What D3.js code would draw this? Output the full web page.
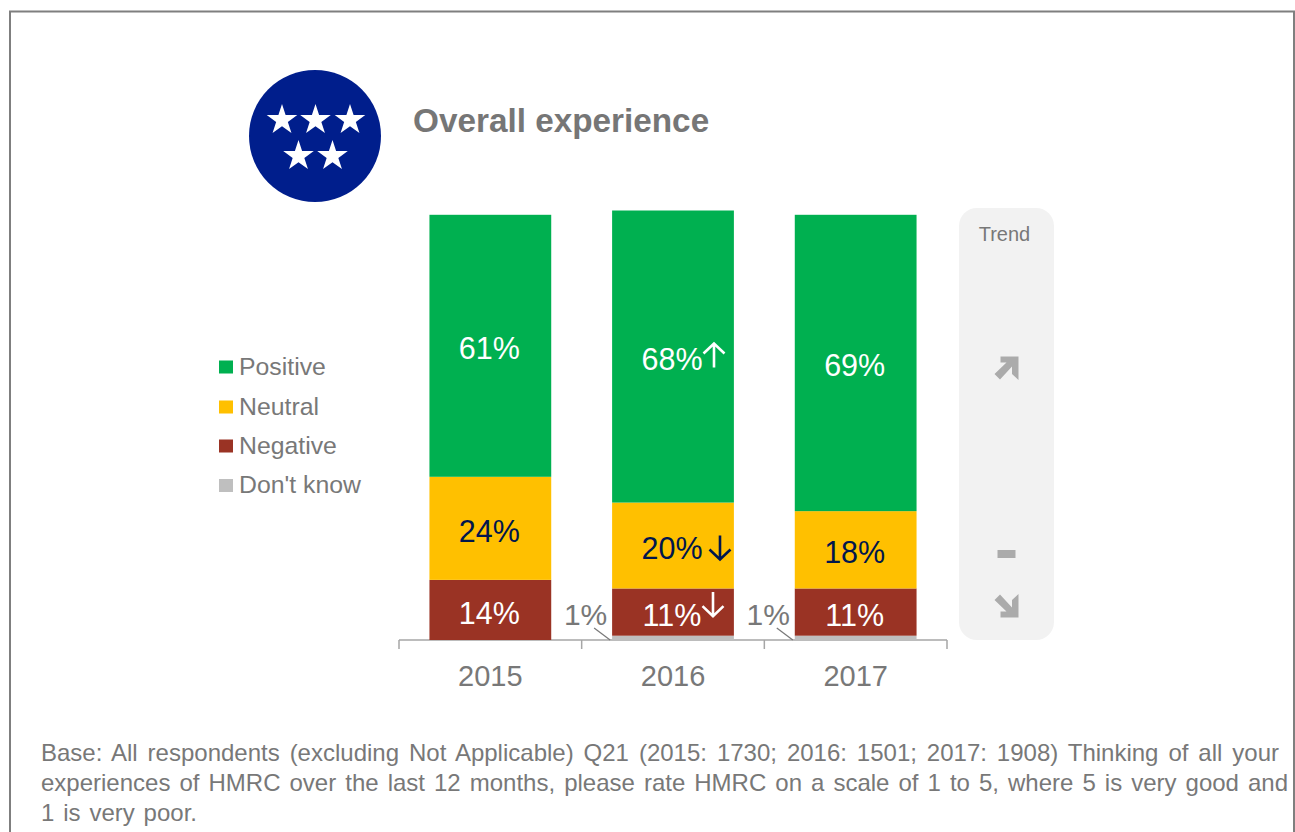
<!DOCTYPE html>
<html><head><meta charset="utf-8">
<script src="https://cdn.jsdelivr.net/npm/d3@7/dist/d3.min.js"></script>
<style>html,body{margin:0;padding:0;background:#fff}svg{display:block}text{font-family:"Liberation Sans",Arial,sans-serif}</style>
</head><body><svg id="c" width="1295" height="832"></svg>
<script>
const years = ["2015","2016","2017"];
const seriesNames = ["Don't know","Negative","Neutral","Positive"];
const legendOrder = ["Positive","Neutral","Negative","Don't know"];
const positive = [61,68,69];
const neutral = [24,20,18];
const negative = [14,11,11];
const dontKnow = [0,1,1];
const colors = {"Positive":"#00B050","Neutral":"#FFC000","Negative":"#9A3324","Don't know":"#BFBFBF"};
const labelColors = {"Positive":"#fff","Neutral":"#00164D","Negative":"#fff"};
const sigMarks = [
 {year:"2016",series:"Positive",dir:"up",dx:41,dy:-1},
 {year:"2016",series:"Neutral",dir:"down",dx:47,dy:2},
 {year:"2016",series:"Negative",dir:"down",dx:40,dy:-8}];
const trendMarks = ["up","flat","down"];
const title = "Overall experience";
const footnote = [
 "Base: All respondents (excluding Not Applicable) Q21 (2015: 1730; 2016: 1501; 2017: 1908) Thinking of all your",
 "experiences of HMRC over the last 12 months, please rate HMRC on a scale of 1 to 5, where 5 is very good and",
 "1 is very poor."];

const svg = d3.select("#c");
const grey="#787878";
// frame
svg.append("path").attr("d","M10,832V11.5H1294V832").attr("fill","none").attr("stroke","#7F7F7F").attr("stroke-width",2);

// badge
svg.append("circle").attr("cx",315).attr("cy",136).attr("r",66).attr("fill","#001E8C");
const star=d3.symbol().type(d3.symbolStar).size(290);
[[282,120],[315.5,120],[350,120],[298.5,156],[332.5,156]].forEach(p=>svg.append("path").attr("d",star()).attr("transform",`translate(${p})`).attr("fill","#fff"));
svg.append("text").attr("x",413).attr("y",132).attr("font-size",33.3).attr("font-weight","bold").attr("fill","#767676").text(title);

// trend panel
svg.append("rect").attr("x",959).attr("y",208).attr("width",95).attr("height",432).attr("rx",18).attr("fill","#F2F2F2");
svg.append("text").attr("x",1004.5).attr("y",241).attr("text-anchor","middle").attr("font-size",20).attr("fill",grey).text("Trend");

const x=d3.scaleBand().domain(years).range([399,947]).paddingInner(1/3).paddingOuter(1/6);
const y=d3.scaleLinear().domain([0,100]).range([640,210.5]);
const rows=years.map((yr,i)=>({year:yr,"Positive":positive[i],"Neutral":neutral[i],"Negative":negative[i],"Don't know":dontKnow[i]}));
const stacked=d3.stack().keys(seriesNames)(rows);

// axis
const gAxis=svg.append("g").attr("transform","translate(0,640)");
gAxis.call(d3.axisBottom(x).tickSize(0).tickPadding(25));
gAxis.select(".domain").remove();
gAxis.selectAll("text").attr("font-size",29).attr("fill",grey).attr("font-family",'"Liberation Sans",Arial,sans-serif');
const step=(947-399)/years.length;
const edges=d3.range(years.length+1).map(i=>399+i*step);
gAxis.append("line").attr("x1",edges[0]).attr("x2",edges[3]).attr("y1",0).attr("y2",0).attr("stroke","#A6A6A6").attr("stroke-width",1.5);
gAxis.selectAll(".edge").data(edges).enter().append("line").attr("x1",d=>d).attr("x2",d=>d).attr("y1",0).attr("y2",9).attr("stroke","#A6A6A6").attr("stroke-width",1.5);

// bars
const layers=svg.selectAll(".layer").data(stacked).enter().append("g").attr("fill",d=>colors[d.key]);
layers.selectAll("rect").data(d=>d).enter().append("rect")
 .attr("x",d=>x(d.data.year)).attr("width",x.bandwidth())
 .attr("y",d=>y(d[1])).attr("height",d=>y(d[0])-y(d[1]));

// value labels
stacked.filter(s=>s.key!=="Don't know").forEach(s=>{
 s.forEach(d=>{
  svg.append("text").attr("x",x(d.data.year)+x.bandwidth()/2-1).attr("y",(y(d[0])+y(d[1]))/2+(s.key==="Negative"?3.5:2.5))
   .attr("dy","0.35em").attr("text-anchor","middle").attr("font-size",30.5).attr("fill",labelColors[s.key]).text(d.data[s.key]+"%");
 });
});

// small-value callouts
years.forEach((yr,i)=>{
 if(dontKnow[i]>0){
  const bx=x(yr);
  svg.append("text").attr("x",bx-26.5).attr("y",625).attr("text-anchor","middle").attr("font-size",30).attr("fill",grey).text(dontKnow[i]+"%");
  svg.append("line").attr("x1",bx-18).attr("y1",628).attr("x2",bx-2).attr("y2",y(0)).attr("stroke",grey).attr("stroke-width",1.2);
 }
});

// significance arrows
sigMarks.forEach(m=>{
 const s=stacked.find(k=>k.key===m.series);
 const d=s[years.indexOf(m.year)];
 const cx=x(m.year)+x.bandwidth()/2+m.dx, cy=(y(d[0])+y(d[1]))/2+m.dy;
 const sgn=m.dir==="up"?-1:1;
 svg.append("path").attr("transform",`translate(${cx},${cy})`)
  .attr("d",`M0,${-12*sgn}V${12*sgn}M-10.5,${2*sgn}L0,${12*sgn}L10.5,${2*sgn}`)
  .attr("fill","none").attr("stroke",labelColors[m.series]).attr("stroke-width",2.6);
});

// trend marks
const trendPos={up:368,flat:554,down:606};
trendMarks.forEach(t=>{
 const g=svg.append("g").attr("transform",`translate(1006.5,${trendPos[t]})`).attr("fill","#ABABAB");
 if(t==="flat") g.append("rect").attr("x",-9).attr("y",-4).attr("width",18).attr("height",8);
 else {
  const sy=t==="up"?1:-1;
  g.append("path").attr("transform",`scale(1,${sy})`).attr("d","M-6,-11.5H12V12L5.5,6V-1.5L-6.5,11.5L-12,6L0,-5.5H-6Z");
 }
});

// legend
legendOrder.forEach((k,i)=>{
 const cy=[367,407,446,485.5][i];
 svg.append("rect").attr("x",219).attr("y",cy-6.5).attr("width",14).attr("height",13).attr("fill",colors[k]);
 svg.append("text").attr("x",239).attr("y",cy-1).attr("dy","0.35em").attr("font-size",24.8).attr("fill",grey).text(k);
});

// footnote, justified
const lineEnds=[1279,1288,197];
footnote.forEach((line,i)=>{
 const t=svg.append("text").attr("x",41).attr("y",761+i*30).attr("font-size",24).attr("fill",grey).text(line);
 const w=t.node().getComputedTextLength();
 const gaps=line.split(" ").length-1;
 t.attr("word-spacing",(lineEnds[i]-41-w)/gaps);
});
</script></body></html>
